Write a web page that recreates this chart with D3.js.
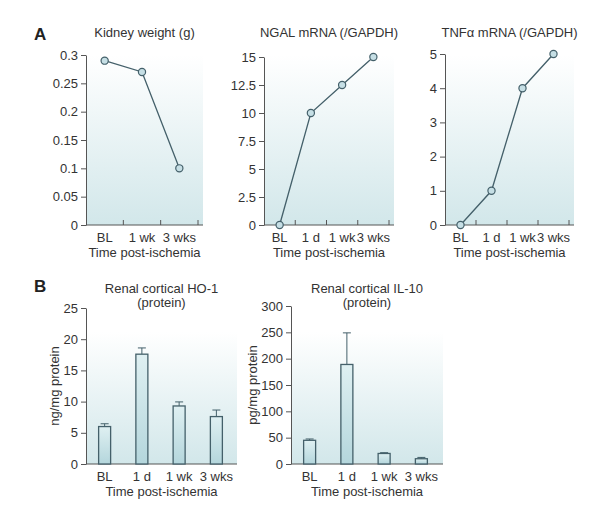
<!DOCTYPE html>
<html><head><meta charset="utf-8">
<script src="https://cdn.jsdelivr.net/npm/d3@7"></script>
<style>
body{margin:0;background:#fff;}
text{font-family:"Liberation Sans",Arial,Helvetica,sans-serif;fill:#333;}
</style></head>
<body><svg id="c" width="600" height="521"></svg>
<script>
// ---- data ----
const kidneyCats = ["BL", "1 wk", "3 wks"];
const kidneyVals = [0.29, 0.27, 0.10];
const kidneyTicks = [0, 0.05, 0.1, 0.15, 0.2, 0.25, 0.3];

const timeCats = ["BL", "1 d", "1 wk", "3 wks"];
const ngalVals = [0, 10, 12.5, 15];
const ngalTicks = [0, 2.5, 5, 7.5, 10, 12.5, 15];

const tnfVals = [0, 1, 4, 5];
const tnfTicks = [0, 1, 2, 3, 4, 5];

const ho1Vals = [6.0, 17.6, 9.3, 7.6];
const ho1Err = [0.45, 1.0, 0.65, 1.05];
const ho1Ticks = [0, 5, 10, 15, 20, 25];

const il10Vals = [45, 189, 20, 10];
const il10Err = [2.5, 60, 1.5, 2.5];
const il10Ticks = [0, 50, 100, 150, 200, 250, 300];

const svg = d3.select("#c");
const defs = svg.append("defs");
const g1 = defs.append("linearGradient").attr("id","bg").attr("x1",0).attr("y1",0).attr("x2",0).attr("y2",1);
g1.append("stop").attr("offset","0").attr("stop-color","#ffffff");
g1.append("stop").attr("offset","1").attr("stop-color","#d2e7ea");
const g2 = defs.append("linearGradient").attr("id","bar").attr("x1",0).attr("y1",0).attr("x2",0).attr("y2",1);
g2.append("stop").attr("offset","0").attr("stop-color","#dff0f2");
g2.append("stop").attr("offset","1").attr("stop-color","#b4d6dc");

const INK = "#44606a";

function fmt(d){ return String(+d.toFixed(2)); }

function panel(o){
  const g = svg.append("g");
  const x = d3.scaleBand().domain(o.cats).range([o.x0, o.x1]);
  const y = d3.scaleLinear().domain([0, o.ymax]).range([o.yb, o.yt]);
  // background
  g.append("rect").attr("x", o.x0).attr("y", o.bgTop).attr("width", o.bgEnd - o.x0)
    .attr("height", o.yb - o.bgTop).attr("fill","url(#bg)");
  // y axis
  const ya = d3.axisLeft(y).tickValues(o.ticks).tickFormat(fmt).tickSize(5).tickSizeOuter(0).tickPadding(3);
  const yg = g.append("g").attr("transform",`translate(${o.x0},0)`).call(ya);
  yg.selectAll("text").attr("font-size",13).style("fill","#333");
  yg.selectAll("line,path").attr("stroke","#555");
  // x axis
  const xa = d3.axisBottom(x).tickSize(0).tickPadding(8).tickSizeOuter(0);
  const xg = g.append("g").attr("transform",`translate(0,${o.yb})`).call(xa);
  xg.select(".domain").remove();
  xg.selectAll("text").attr("font-size",13).style("fill","#333");
  g.append("line").attr("x1",o.x0).attr("x2",o.bgEnd).attr("y1",o.yb).attr("y2",o.yb).attr("stroke","#555");
  if (o.inTicks){
    g.selectAll(".it").data(o.cats).join("line")
      .attr("x1", d=>x(d)+x.bandwidth()).attr("x2", d=>x(d)+x.bandwidth())
      .attr("y1", o.yb).attr("y2", o.yb-5).attr("stroke","#555");
  }
  // titles
  const cx = (o.x0 + o.bgEnd)/2;
  o.title.forEach((t,i)=>{
    g.append("text").attr("x",cx).attr("y",o.titleY + i*14).attr("text-anchor","middle")
      .attr("font-size",13).text(t);
  });
  g.append("text").attr("x",cx).attr("y",o.yb+32).attr("text-anchor","middle")
    .attr("font-size",13).text("Time post-ischemia");
  if (o.ylabel){
    g.append("text").attr("transform",`translate(${o.ylabelX},${(o.yb+o.yt)/2}) rotate(-90)`)
      .attr("text-anchor","middle").attr("dominant-baseline","central")
      .attr("font-size",13).text(o.ylabel);
  }
  return {g, x, y};
}

function linePanel(o){
  const p = panel(Object.assign({inTicks:true}, o));
  const pts = o.cats.map((c,i)=>[p.x(c)+p.x.bandwidth()/2, p.y(o.vals[i])]);
  p.g.append("path").attr("d", d3.line()(pts)).attr("fill","none").attr("stroke",INK).attr("stroke-width",1.3);
  p.g.selectAll(".pt").data(pts).join("circle").attr("cx",d=>d[0]).attr("cy",d=>d[1]).attr("r",3.6)
    .attr("fill","#c6dfe5").attr("stroke",INK).attr("stroke-width",1.2);
}

function barPanel(o){
  const p = panel(Object.assign({inTicks:false}, o));
  const bw = 12;
  o.cats.forEach((c,i)=>{
    const cxp = p.x(c)+p.x.bandwidth()/2;
    const top = p.y(o.vals[i]);
    const et = p.y(o.vals[i]+o.err[i]);
    p.g.append("line").attr("x1",cxp).attr("x2",cxp).attr("y1",top).attr("y2",et).attr("stroke",INK).attr("stroke-width",1);
    p.g.append("line").attr("x1",cxp-4).attr("x2",cxp+4).attr("y1",et).attr("y2",et).attr("stroke",INK).attr("stroke-width",1);
    p.g.append("rect").attr("x",cxp-bw/2).attr("y",top).attr("width",bw).attr("height",o.yb-top)
      .attr("fill","url(#bar)").attr("stroke",INK).attr("stroke-width",1.3);
  });
}

linePanel({cats:kidneyCats, vals:kidneyVals, ticks:kidneyTicks, ymax:0.3,
  x0:86, x1:198, bgEnd:203, yb:225, yt:55, bgTop:55, title:["Kidney weight (g)"], titleY:37});
linePanel({cats:timeCats, vals:ngalVals, ticks:ngalTicks, ymax:15,
  x0:264, x1:389, bgEnd:394, yb:225, yt:57, bgTop:55, title:["NGAL mRNA (/GAPDH)"], titleY:37});
linePanel({cats:timeCats, vals:tnfVals, ticks:tnfTicks, ymax:5,
  x0:445, x1:569, bgEnd:574, yb:225, yt:54, bgTop:55, title:["TNF\u03B1 mRNA (/GAPDH)"], titleY:37});

barPanel({cats:timeCats, vals:ho1Vals, err:ho1Err, ticks:ho1Ticks, ymax:25,
  x0:86, x1:235, bgEnd:237, yb:464, yt:308, bgTop:332, title:["Renal cortical HO-1","(protein)"], titleY:293,
  ylabel:"ng/mg protein", ylabelX:54});
barPanel({cats:timeCats, vals:il10Vals, err:il10Err, ticks:il10Ticks, ymax:300,
  x0:291, x1:440, bgEnd:443, yb:464, yt:306, bgTop:332, title:["Renal cortical IL-10","(protein)"], titleY:293,
  ylabel:"pg/mg protein", ylabelX:252});

svg.append("text").attr("x",34).attr("y",40).attr("font-size",17).attr("font-weight","bold")
  .style("font-family","'Liberation Sans Narrow','Liberation Sans',Arial").style("fill","#222").text("A");
svg.append("text").attr("x",34).attr("y",292).attr("font-size",17).attr("font-weight","bold")
  .style("font-family","'Liberation Sans Narrow','Liberation Sans',Arial").style("fill","#222").text("B");
</script></body></html>
